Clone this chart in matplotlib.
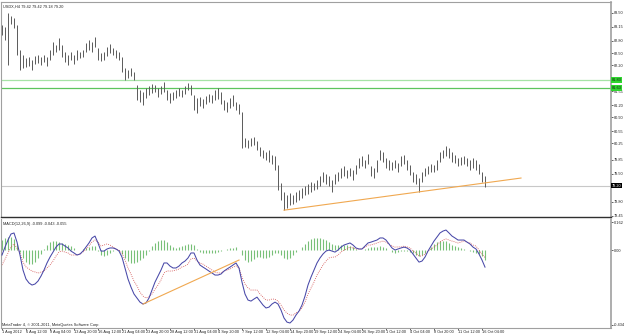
import numpy as np
import matplotlib.pyplot as plt
from matplotlib.transforms import blended_transform_factory

# USDX H4, 1 Aug - 16 Oct 2012 (one entry = two H4 bars)
bar_high = [83.20, 83.15, 83.50, 83.42, 83.37, 83.20, 82.58, 82.45, 82.38, 82.40,
            82.33, 82.43, 82.45, 82.40, 82.45, 82.40, 82.58, 82.77, 82.70, 82.87,
            82.70, 82.53, 82.45, 82.53, 82.45, 82.58, 82.53, 82.58, 82.75, 82.82,
            82.77, 82.90, 82.62, 82.50, 82.53, 82.65, 82.72, 82.62, 82.58, 82.53,
            82.40, 82.13, 82.08, 82.13, 82.03, 81.70, 81.58, 81.53, 81.63, 81.68,
            81.73, 81.70, 81.63, 81.68, 81.78, 81.58, 81.50, 81.53, 81.58, 81.63,
            81.58, 81.68, 81.75, 81.70, 81.45, 81.38, 81.41, 81.36, 81.43, 81.48,
            81.45, 81.58, 81.63, 81.53, 81.33, 81.28, 81.38, 81.45, 81.28, 81.23,
            81.03, 80.39, 80.34, 80.39, 80.41, 80.31, 80.16, 80.09, 80.04, 80.09,
            79.96, 79.94, 79.71, 79.27, 79.04, 78.97, 79.02, 78.97, 79.04, 79.09,
            79.14, 79.19, 79.24, 79.29, 79.27, 79.34, 79.44, 79.54, 79.49, 79.44,
            79.34, 79.49, 79.54, 79.64, 79.69, 79.59, 79.64, 79.59, 79.71, 79.89,
            79.94, 79.84, 79.99, 79.69, 79.64, 79.84, 80.09, 80.04, 79.89, 79.84,
            79.79, 79.84, 79.76, 79.94, 79.96, 79.84, 79.71, 79.54, 79.49, 79.39,
            79.54, 79.64, 79.69, 79.74, 79.71, 79.84, 80.04, 80.09, 80.19, 80.14,
            80.04, 79.96, 79.89, 79.91, 79.94, 79.89, 79.84, 79.89, 79.84, 79.74,
            79.54, 79.44]
bar_low = [82.95, 82.82, 82.20, 83.22, 83.12, 82.45, 82.08, 82.13, 82.15, 82.18,
           82.08, 82.23, 82.25, 82.20, 82.28, 82.18, 82.33, 82.45, 82.53, 82.58,
           82.40, 82.28, 82.20, 82.33, 82.23, 82.33, 82.38, 82.40, 82.53, 82.58,
           82.53, 82.65, 82.33, 82.30, 82.33, 82.43, 82.50, 82.45, 82.38, 82.33,
           82.03, 81.83, 81.88, 81.93, 81.83, 81.33, 81.28, 81.21, 81.38, 81.45,
           81.50, 81.53, 81.41, 81.48, 81.53, 81.33, 81.26, 81.33, 81.38, 81.43,
           81.41, 81.48, 81.58, 81.45, 81.08, 81.01, 81.18, 81.13, 81.23, 81.28,
           81.26, 81.33, 81.36, 81.23, 81.08, 81.03, 81.13, 81.18, 81.08, 80.98,
           80.14, 80.16, 80.14, 80.19, 80.21, 80.09, 79.94, 79.89, 79.84, 79.79,
           79.74, 79.59, 79.09, 78.84, 78.59, 78.64, 78.72, 78.74, 78.79, 78.84,
           78.89, 78.97, 78.99, 79.04, 79.09, 79.12, 79.19, 79.29, 79.24, 79.19,
           79.04, 79.24, 79.32, 79.39, 79.44, 79.39, 79.44, 79.34, 79.49, 79.64,
           79.69, 79.64, 79.74, 79.44, 79.39, 79.54, 79.84, 79.79, 79.64, 79.59,
           79.59, 79.64, 79.54, 79.69, 79.74, 79.59, 79.47, 79.29, 79.24, 79.04,
           79.29, 79.44, 79.49, 79.54, 79.54, 79.59, 79.79, 79.89, 79.94, 79.89,
           79.79, 79.76, 79.69, 79.71, 79.74, 79.69, 79.59, 79.64, 79.59, 79.49,
           79.29, 79.17]
last_price = 79.20
title_quote = "USDX,H4 79.42 79.42 79.18 79.20"

level_lines = [81.83, 81.63]
trend_idx = [94, 173]
trend_price = [78.59, 79.39]

# MACD(12,26,9): main line and histogram (main - signal)
macd_main = [-0.029, 0.017, 0.058, 0.093, 0.099, 0.046, -0.029, -0.116, -0.168, -0.191,
             -0.203, -0.197, -0.180, -0.151, -0.116, -0.075, -0.041, -0.012, 0.017, 0.035,
             0.035, 0.023, 0.012, -0.006, -0.017, -0.029, -0.023, -0.006, 0.017, 0.041,
             0.070, 0.081, 0.041, -0.006, -0.006, 0.006, 0.012, 0.012, 0.006, -0.006,
             -0.041, -0.104, -0.168, -0.215, -0.255, -0.278, -0.302, -0.313, -0.307, -0.278,
             -0.232, -0.186, -0.151, -0.116, -0.075, -0.075, -0.093, -0.104, -0.104, -0.093,
             -0.075, -0.064, -0.046, -0.017, -0.017, -0.058, -0.087, -0.099, -0.110, -0.122,
             -0.133, -0.145, -0.145, -0.139, -0.122, -0.110, -0.099, -0.087, -0.075, -0.104,
             -0.186, -0.255, -0.290, -0.296, -0.284, -0.273, -0.296, -0.319, -0.336, -0.331,
             -0.313, -0.302, -0.313, -0.348, -0.394, -0.418, -0.423, -0.406, -0.377, -0.354,
             -0.319, -0.267, -0.203, -0.157, -0.116, -0.075, -0.046, -0.023, -0.006, 0.000,
             -0.006, -0.012, 0.000, 0.017, 0.029, 0.035, 0.041, 0.029, 0.012, 0.006,
             0.006, 0.023, 0.041, 0.046, 0.052, 0.058, 0.070, 0.070, 0.058, 0.035,
             0.012, 0.000, 0.006, 0.012, 0.017, 0.012, 0.000, -0.023, -0.046, -0.070,
             -0.064, -0.041, -0.006, 0.023, 0.052, 0.075, 0.099, 0.110, 0.116, 0.099,
             0.081, 0.070, 0.058, 0.058, 0.058, 0.046, 0.035, 0.017, 0.006, -0.023,
             -0.058, -0.099]
macd_hist = [0.058, 0.070, 0.075, 0.075, 0.064, 0.035, -0.012, -0.046, -0.070, -0.081,
             -0.081, -0.070, -0.046, -0.023, 0.006, 0.029, 0.046, 0.052, 0.052, 0.046,
             0.041, 0.035, 0.029, 0.023, 0.012, 0.000, 0.000, 0.006, 0.012, 0.017,
             0.023, 0.023, -0.006, -0.029, -0.035, -0.029, -0.017, -0.006, 0.000, -0.006,
             -0.023, -0.046, -0.064, -0.075, -0.075, -0.070, -0.058, -0.046, -0.029, -0.006,
             0.023, 0.041, 0.052, 0.058, 0.058, 0.046, 0.029, 0.017, 0.012, 0.017,
             0.023, 0.029, 0.035, 0.035, 0.029, 0.006, -0.012, -0.017, -0.017, -0.017,
             -0.017, -0.017, -0.012, -0.006, 0.000, 0.006, 0.012, 0.012, 0.017, 0.000,
             -0.029, -0.058, -0.070, -0.064, -0.052, -0.041, -0.041, -0.046, -0.046, -0.041,
             -0.029, -0.017, -0.017, -0.029, -0.046, -0.052, -0.046, -0.029, -0.012, 0.000,
             0.017, 0.035, 0.052, 0.064, 0.070, 0.070, 0.070, 0.064, 0.058, 0.046,
             0.035, 0.029, 0.029, 0.029, 0.029, 0.029, 0.023, 0.017, 0.006, 0.000,
             0.000, 0.006, 0.012, 0.017, 0.017, 0.017, 0.023, 0.017, 0.012, 0.000,
             -0.012, -0.017, -0.012, -0.006, -0.006, -0.006, -0.012, -0.017, -0.029, -0.035,
             -0.029, -0.017, 0.000, 0.017, 0.035, 0.046, 0.052, 0.052, 0.052, 0.041,
             0.029, 0.023, 0.017, 0.012, 0.006, 0.000, -0.006, -0.012, -0.017, -0.023,
             -0.035, -0.055]
macd_title = "MACD(12,26,9) -0.099 -0.043 -0.055"
macd_trend_idx = [47, 79]
macd_trend_val = [-0.313, -0.058]

# right-axis labels (the ones under the price tags are left out)
price_ticks = [83.50, 83.15, 82.80, 82.50, 82.20, 81.55, 81.20, 80.90, 80.55,
               80.25, 79.85, 79.50, 78.80, 78.45]
macd_ticks = [0.162, 0.0, -0.434]
macd_tick_labels = ["0.162", "0.00", "-0.434"]
date_labels = ["1 Aug 2012", "6 Aug 12:00", "9 Aug 04:00", "13 Aug 20:00", "16 Aug 12:00",
               "21 Aug 04:00", "23 Aug 20:00", "28 Aug 12:00", "31 Aug 04:00", "4 Sep 20:00",
               "7 Sep 12:00", "12 Sep 04:00", "14 Sep 20:00", "19 Sep 12:00", "24 Sep 04:00",
               "26 Sep 20:00", "1 Oct 12:00", "4 Oct 04:00", "8 Oct 20:00", "11 Oct 12:00",
               "16 Oct 04:00"]
date_step = 8
copyright_text = "MetaTrader 4, \u00a9 2001-2011, MetaQuotes Software Corp."

assert len(bar_high) == len(bar_low) == len(macd_main) == len(macd_hist)

plt.rcParams['font.family'] = ['Liberation Sans', 'DejaVu Sans']
fs = 2.8

idx = np.arange(len(bar_high))
macd_main = np.array(macd_main)
macd_hist = np.array(macd_hist)
macd_signal = macd_main - macd_hist

fig = plt.figure(figsize=(6.25, 3.35), dpi=100)
ax = fig.add_axes([0.0016, 0.3522, 0.976, 0.6418])
ax2 = fig.add_axes([0.0016, 0.0209, 0.976, 0.3254], sharex=ax)

# price window
ax.axhline(last_price, color='#c8c8c8', lw=0.8, zorder=0)
for lv, c in zip(level_lines, ['#a6e3a6', '#5cc45c']):
    ax.axhline(lv, color=c, lw=0.9, zorder=1)
ax.vlines(idx, bar_low, bar_high, color='#5a5a5a', lw=0.7, zorder=2)
ax.plot(trend_idx, trend_price, color='#f0a850', lw=0.8, zorder=3)
ax.set_xlim(-1 / 3, 203)
ax.set_ylim(78.42, 83.77)
ax.yaxis.tick_right()
ax.set_yticks(price_ticks)
ax.set_yticklabels([f"{v:.2f}" for v in price_ticks])
ax.tick_params(axis='y', length=1.5, width=0.5, pad=0.8, labelsize=fs,
               colors='#222222')
ax.tick_params(axis='x', bottom=False, labelbottom=False)
ax.text(0.004, 0.988, title_quote, transform=ax.transAxes, fontsize=fs,
        va='top', ha='left', color='#222222')

trans = blended_transform_factory(ax.transAxes, ax.transData)
for lv in level_lines:
    ax.text(1.001, lv, f"{lv:.2f}", transform=trans, fontsize=fs, va='center',
            ha='left', color='#1a1a1a', clip_on=False, zorder=5,
            bbox=dict(boxstyle='square,pad=0.15', fc='#2fd62f', ec='none'))
ax.text(1.001, last_price, f"{last_price:.2f}", transform=trans, fontsize=fs,
        va='center', ha='left', color='white', clip_on=False, zorder=5,
        bbox=dict(boxstyle='square,pad=0.15', fc='black', ec='none'))

# MACD window
ax2.vlines(idx, 0, macd_hist, color='#78c078', lw=0.8, zorder=1)
ax2.plot(idx, macd_main, color='#4848a8', lw=0.75, zorder=3)
ax2.plot(idx, macd_signal, color='#d04848', lw=0.6, ls=(0, (1, 1.5)), zorder=2)
ax2.plot(macd_trend_idx, macd_trend_val, color='#f0a850', lw=0.8, zorder=4)
ax2.set_ylim(-0.452, 0.180)
ax2.yaxis.tick_right()
ax2.set_yticks(macd_ticks)
ax2.set_yticklabels(macd_tick_labels)
ax2.tick_params(axis='y', length=1.5, width=0.5, pad=0.8, labelsize=fs,
                colors='#222222')
ax2.set_xticks(idx[::date_step][:len(date_labels)])
ax2.set_xticklabels(date_labels, ha='left')
ax2.tick_params(axis='x', length=1.5, width=0.5, pad=-0.3, labelsize=fs,
                colors='#222222')
ax2.text(0.004, 0.975, macd_title, transform=ax2.transAxes, fontsize=fs,
         va='top', ha='left', color='#222222')

for a in (ax, ax2):
    a.set_facecolor('white')
    for s in ('left', 'right', 'top', 'bottom'):
        a.spines[s].set_color('#a0a0a0')
        a.spines[s].set_linewidth(0.8)
    a.spines['right'].set_linewidth(1.2)
ax.spines['bottom'].set_color('#303030')
ax.spines['bottom'].set_linewidth(1.0)
ax2.spines['top'].set_visible(False)

fig.text(2 / 625, 1 - 325 / 335, copyright_text, fontsize=fs, va='center',
         ha='left', color='#222222')

fig.savefig('out.png', dpi=100, facecolor='white')
